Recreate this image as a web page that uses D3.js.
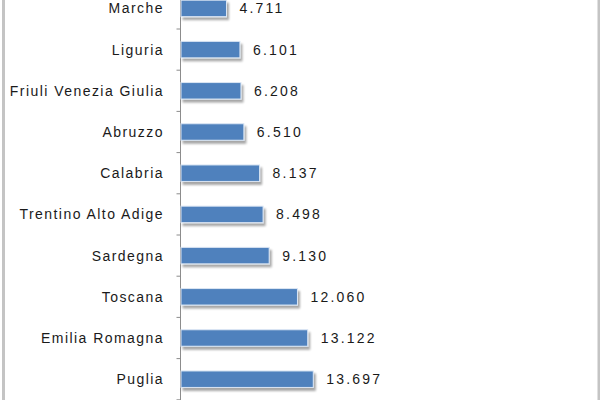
<!DOCTYPE html>
<html>
<head>
<meta charset="utf-8">
<script src="https://cdn.jsdelivr.net/npm/d3@7"></script>
<style>
  body { margin: 0; background: #fff; }
  svg { display: block; }
  .label { font-family: "Liberation Sans", Arial, sans-serif; font-size: 14px; fill: #1a1a1a; letter-spacing: 1.45px; }
  .value { font-family: "Liberation Sans", Arial, sans-serif; font-size: 14px; fill: #1a1a1a; letter-spacing: 2.2px; }
</style>
</head>
<body>
<script>
// regions, top to bottom, and number of enterprises
var regions = ['Marche', 'Liguria', 'Friuli Venezia Giulia', 'Abruzzo', 'Calabria',
               'Trentino Alto Adige', 'Sardegna', 'Toscana', 'Emilia Romagna', 'Puglia'];
var values = [4711, 6101, 6208, 6510, 8137, 8498, 9130, 12060, 13122, 13697];
var valueLabels = ['4.711', '6.101', '6.208', '6.510', '8.137', '8.498', '9.130', '12.060', '13.122', '13.697'];

var width = 600, height = 400;
var axisX = 180.5;

var svg = d3.select('body').append('svg')
  .attr('width', width)
  .attr('height', height);

// drop shadow like the spreadsheet bars
var filter = svg.append('defs').append('filter')
  .attr('id', 'shadow')
  .attr('x', '-10%').attr('y', '-30%')
  .attr('width', '130%').attr('height', '190%');
filter.append('feGaussianBlur')
  .attr('in', 'SourceAlpha')
  .attr('stdDeviation', 1.2)
  .attr('result', 'blur');
filter.append('feOffset')
  .attr('in', 'blur')
  .attr('dx', 2).attr('dy', 2.5)
  .attr('result', 'off');
filter.append('feComponentTransfer').attr('in', 'off').attr('result', 'offA')
  .append('feFuncA').attr('type', 'linear').attr('slope', 0.35);
var merge = filter.append('feMerge');
merge.append('feMergeNode').attr('in', 'offA');
merge.append('feMergeNode').attr('in', 'SourceGraphic');

var x = d3.scaleLinear().domain([0, 14000]).range([axisX + 0.5, axisX + 0.5 + 135.2]);
var y = d3.scaleBand().domain(regions).range([-12.2, 399.8]).paddingInner(0.6).paddingOuter(0.3);

// frame lines on the sides
svg.append('rect').attr('x', 2).attr('y', 0).attr('width', 3).attr('height', height).attr('fill', '#c4c4c4');
svg.append('rect').attr('x', 597.5).attr('y', 0).attr('width', 2.5).attr('height', height).attr('fill', '#c4c4c4');

// category axis
var yAxis = d3.axisLeft(y).tickSize(0).tickFormat('');
var gAxis = svg.append('g').attr('transform', 'translate(' + axisX + ',0)').call(yAxis);
gAxis.select('.domain').attr('stroke', '#8c8c8c').attr('d', 'M0,0V' + height);

// tick marks sit between the categories
var step = y.step();
var tickYs = regions.map(function (r) { return y(r) + y.bandwidth() / 2 + step / 2; });
svg.selectAll('.tk').data(tickYs).enter().append('line')
  .attr('class', 'tk')
  .attr('x1', axisX - 4).attr('x2', axisX)
  .attr('y1', function (d) { return d; }).attr('y2', function (d) { return d; })
  .attr('stroke', '#8c8c8c');

// bars
svg.selectAll('.bar').data(values).enter().append('rect')
  .attr('class', 'bar')
  .attr('x', x(0))
  .attr('y', function (d, i) { return y(regions[i]); })
  .attr('width', function (d) { return x(d) - x(0); })
  .attr('height', y.bandwidth())
  .attr('fill', '#4f81bd')
  .attr('stroke', '#dbe6f4')
  .attr('stroke-width', 1)
  .style('filter', 'url(#shadow)');

// category labels
svg.selectAll('.label').data(regions).enter().append('text')
  .attr('class', 'label')
  .attr('x', 164)
  .attr('y', function (d) { return y(d) + y.bandwidth() / 2; })
  .attr('dy', '0.35em')
  .attr('text-anchor', 'end')
  .text(function (d) { return d; });

// value labels
svg.selectAll('.value').data(values).enter().append('text')
  .attr('class', 'value')
  .attr('x', function (d) { return x(d) + 13; })
  .attr('y', function (d, i) { return y(regions[i]) + y.bandwidth() / 2; })
  .attr('dy', '0.35em')
  .text(function (d, i) { return valueLabels[i]; });
</script>
</body>
</html>
